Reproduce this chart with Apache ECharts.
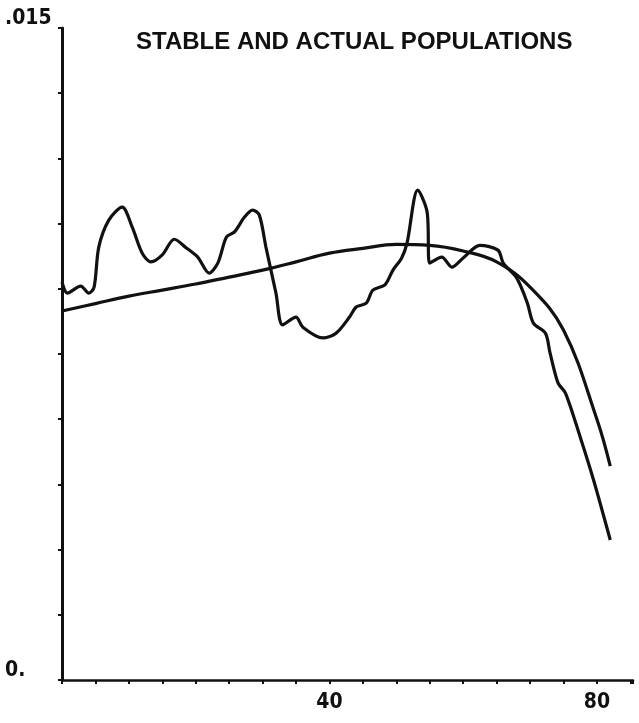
<!DOCTYPE html>
<html>
<head>
<meta charset="utf-8">
<script src="https://cdn.jsdelivr.net/npm/echarts@6/dist/echarts.min.js"></script>
<style>
  html, body { margin: 0; padding: 0; background: #fff; }
  #chart { width: 639px; height: 723px; }
</style>
</head>
<body>
<div id="chart"></div>
<script>
// ---- Data ----
const chartTitle = 'STABLE AND ACTUAL POPULATIONS';

// Stable population curve: age vs proportion
const stableAge  = [0, 5, 10, 15, 20, 25, 30, 35, 40, 45, 50, 55, 60, 65, 70, 75, 80, 82];
const stableRate = [0.00849, 0.00866, 0.00883, 0.00897, 0.00911, 0.00927, 0.00943, 0.00962, 0.00982,
                    0.00993, 0.01002, 0.01000, 0.00987, 0.00962, 0.00904, 0.00805, 0.00600, 0.00492];

// Actual population curve: age vs proportion
const actualAge  = [0, 0.8, 2.8, 4, 4.8, 5.5, 7, 9, 10.5, 12, 13.3, 15, 16.8, 18.6, 20.3, 22, 23.3,
                    24.6, 25.8, 27.3, 28.5, 29.5, 30.5, 32, 33, 35, 36, 39, 41, 43, 44, 45.5, 46.5,
                    48.3, 49.5, 50.8, 51.6, 53.2, 54.6, 55, 56.8, 58.3, 60, 62.5, 65.2, 66, 68,
                    69.6, 70.5, 72.3, 73, 74.2, 75.3, 77.5, 79.5, 82];
const actualRate = [0.00916, 0.00890, 0.00906, 0.00890, 0.00904, 0.00996, 0.01058, 0.01088, 0.01042,
                    0.00982, 0.00962, 0.00978, 0.01014, 0.00994, 0.00973, 0.00936, 0.00959,
                    0.01019, 0.01031, 0.01065, 0.01081, 0.01070, 0.00996, 0.00890, 0.00817, 0.00835,
                    0.00812, 0.00787, 0.00798, 0.00835, 0.00858, 0.00867, 0.00897,
                    0.00909, 0.00943, 0.00971, 0.01005, 0.01127, 0.01077, 0.00959, 0.00973, 0.00950,
                    0.00971, 0.01000, 0.00989, 0.00959, 0.00925,
                    0.00867, 0.00821, 0.00798, 0.00752, 0.00683, 0.00660, 0.00559, 0.00460, 0.00322];

// Tick labels shown on the axes
const xTickLabels = [40, 80];
const yTickLabels = [{ value: 0, text: '0.' }, { value: 0.015, text: '.015' }];

const xMin = 0, xMax = 85.4, xStep = 5;
const yMin = 0, yMax = 0.015, yStep = 0.0015;

// ---- Chart ----
const zip = (a, b) => a.map((v, i) => [v, b[i]]);
const ink = '#111';
const labelFont = '"Liberation Sans Narrow", "DejaVu Sans Condensed", "Liberation Sans", sans-serif';

const chart = echarts.init(document.getElementById('chart'), null, { renderer: 'canvas' });
chart.setOption({
  backgroundColor: '#fff',
  animation: false,
  title: {
    text: chartTitle,
    left: 131,
    top: 25,
    textStyle: {
      fontFamily: '"Liberation Sans", Arial, sans-serif',
      fontSize: 24,
      fontWeight: 'bold',
      color: ink
    }
  },
  grid: { left: 62, right: 6, top: 28, bottom: 43, containLabel: false },
  xAxis: {
    type: 'value',
    min: xMin, max: xMax, interval: xStep,
    axisLine: { show: true, lineStyle: { color: ink, width: 2.5 } },
    axisTick: { show: true, inside: false, length: 4, lineStyle: { color: ink, width: 2 } },
    splitLine: { show: false },
    axisLabel: {
      margin: 12,
      fontFamily: labelFont,
      fontSize: 21,
      fontWeight: 'bold',
      color: ink,
      formatter: v => xTickLabels.some(t => Math.abs(t - v) < 1e-6) ? String(v) : ''
    }
  },
  yAxis: {
    type: 'value',
    min: yMin, max: yMax, interval: yStep,
    axisLine: { show: true, lineStyle: { color: ink, width: 3 } },
    axisTick: { show: true, inside: false, length: 4, lineStyle: { color: ink, width: 2 } },
    splitLine: { show: false },
    axisLabel: {
      margin: 57,
      align: 'left',
      verticalAlign: 'bottom',
      lineHeight: 18,
      fontFamily: labelFont,
      fontSize: 21,
      fontWeight: 'bold',
      color: ink,
      formatter: v => {
        const hit = yTickLabels.find(t => Math.abs(t.value - v) < 1e-9);
        return hit ? hit.text : '';
      }
    }
  },
  series: [
    {
      name: 'Stable',
      type: 'line',
      data: zip(stableAge, stableRate),
      smooth: 0.4,
      showSymbol: false,
      lineStyle: { color: ink, width: 3.2 },
      z: 3
    },
    {
      name: 'Actual',
      type: 'line',
      data: zip(actualAge, actualRate),
      smooth: 0.3,
      showSymbol: false,
      lineStyle: { color: ink, width: 3.2 },
      z: 4
    }
  ]
});
</script>
</body>
</html>
